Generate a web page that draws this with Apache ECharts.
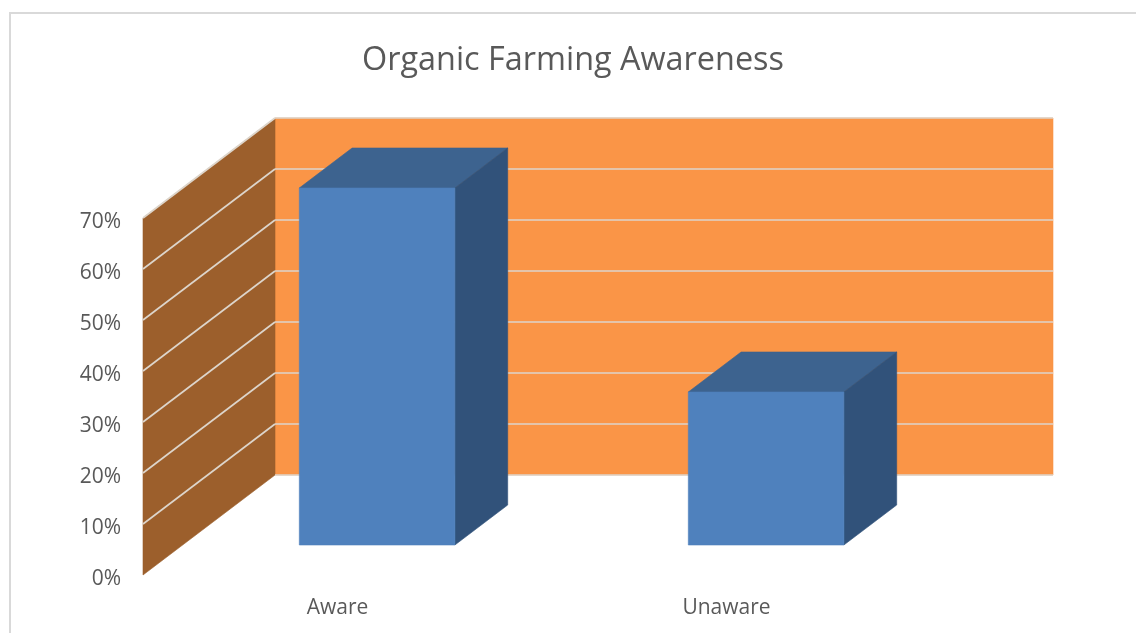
<!DOCTYPE html>
<html>
<head>
<meta charset="utf-8">
<style>html,body{margin:0;padding:0;background:#fff}#c{width:1136px;height:633px}</style>
<script src="https://cdn.jsdelivr.net/npm/echarts@6/dist/echarts.min.js"></script>
</head>
<body>
<div id="c"></div>
<script>
const titleText = 'Organic Farming Awareness';
const categories = ['Aware', 'Unaware'];
const shares = [70, 30];
const gridTicks = [0, 10, 20, 30, 40, 50, 60, 70];

const WALL_DX = 132, WALL_DY = 100;
const FONT = '"Open Sans", "Noto Sans", sans-serif';
const chart = echarts.init(document.getElementById('c'), null, {renderer: 'canvas'});

function poly(points, fill, stroke) {
  return {type: 'polygon', shape: {points}, style: {fill, stroke: stroke || fill, lineWidth: 0.6}};
}
function seg(a, b) {
  return {type: 'line', shape: {x1: a[0], y1: a[1], x2: b[0], y2: b[1]},
          style: {stroke: '#DDD5CB', lineWidth: 1.7, fill: null}};
}

function renderWalls(params, api) {
  const sys = params.coordSys;
  const L = sys.x, R = sys.x + sys.width;
  const T = api.coord([0, 70])[1], B = api.coord([0, 0])[1];
  const kids = [];
  if (params.dataIndex === 0) {
    kids.push(poly([[L + WALL_DX, T - WALL_DY], [R + WALL_DX, T - WALL_DY], [R + WALL_DX, B - WALL_DY], [L + WALL_DX, B - WALL_DY]], '#FA9547'));
    kids.push(poly([[L, T], [L + WALL_DX, T - WALL_DY], [L + WALL_DX, B - WALL_DY], [L, B]], '#9C5F2C'));
    kids.push(seg([L + WALL_DX, B - WALL_DY], [R + WALL_DX, B - WALL_DY]));
  }
  const y = api.coord([0, api.value(0)])[1];
  const v = api.value(0);
  if (v > 0) {
    kids.push(seg([L, y], [L + WALL_DX, y - WALL_DY]));
    kids.push(seg([L + WALL_DX, y - WALL_DY], [R + WALL_DX, y - WALL_DY]));
  }
  return {type: 'group', children: kids};
}

function renderBar(params, api) {
  const top = api.coord([api.value(0), api.value(1)]);
  const base = api.coord([api.value(0), 0]);
  const w = api.size([1, 0])[0] * 0.4;
  const nearX = WALL_DX * 0.3, nearY = WALL_DY * 0.3;
  const dx = WALL_DX * 0.4, dy = WALL_DY * 0.4;
  const x0 = top[0] - w / 2 + nearX, x1 = top[0] + w / 2 + nearX;
  const yT = top[1] - nearY, yB = base[1] - nearY;
  return {type: 'group', children: [
    poly([[x0, yT], [x1, yT], [x1 + dx, yT - dy], [x0 + dx, yT - dy]], '#3D638F'),
    poly([[x1, yT], [x1 + dx, yT - dy], [x1 + dx, yB - dy], [x1, yB]], '#31527A'),
    poly([[x0, yT], [x1, yT], [x1, yB], [x0, yB]], '#4F81BD')
  ]};
}

chart.setOption({
  animation: false,
  backgroundColor: '#fff',
  title: {
    text: titleText, left: 573, top: 45, padding: 0, textAlign: 'center',
    textStyle: {fontFamily: FONT, fontSize: 32.4, fontWeight: 'normal', color: '#595959'}
  },
  graphic: [{
    type: 'polyline', silent: true,
    shape: {points: [[10, 633], [10, 13], [1136, 13]]},
    style: {stroke: '#D9D9D9', lineWidth: 2, fill: null}
  }],
  grid: {left: 143, top: 218, width: 778, height: 357},
  xAxis: {
    type: 'category', data: categories,
    axisLine: {show: false}, axisTick: {show: false}, splitLine: {show: false},
    axisLabel: {margin: 23, fontFamily: FONT, fontSize: 21, color: '#595959'}
  },
  yAxis: {
    type: 'value', min: 0, max: 70, interval: 10,
    axisLine: {show: false}, axisTick: {show: false}, splitLine: {show: false},
    axisLabel: {margin: 22, verticalAlign: 'top', lineHeight: 8, formatter: '{value}%', fontFamily: FONT, fontSize: 21, color: '#595959'}
  },
  series: [
    {type: 'custom', renderItem: renderWalls, data: gridTicks.map(v => [v]), encode: {y: 0}, silent: true, z: 1},
    {type: 'custom', renderItem: renderBar, data: categories.map((c, i) => [i, shares[i]]), encode: {x: 0, y: 1}, z: 2}
  ]
});
</script>
</body>
</html>
